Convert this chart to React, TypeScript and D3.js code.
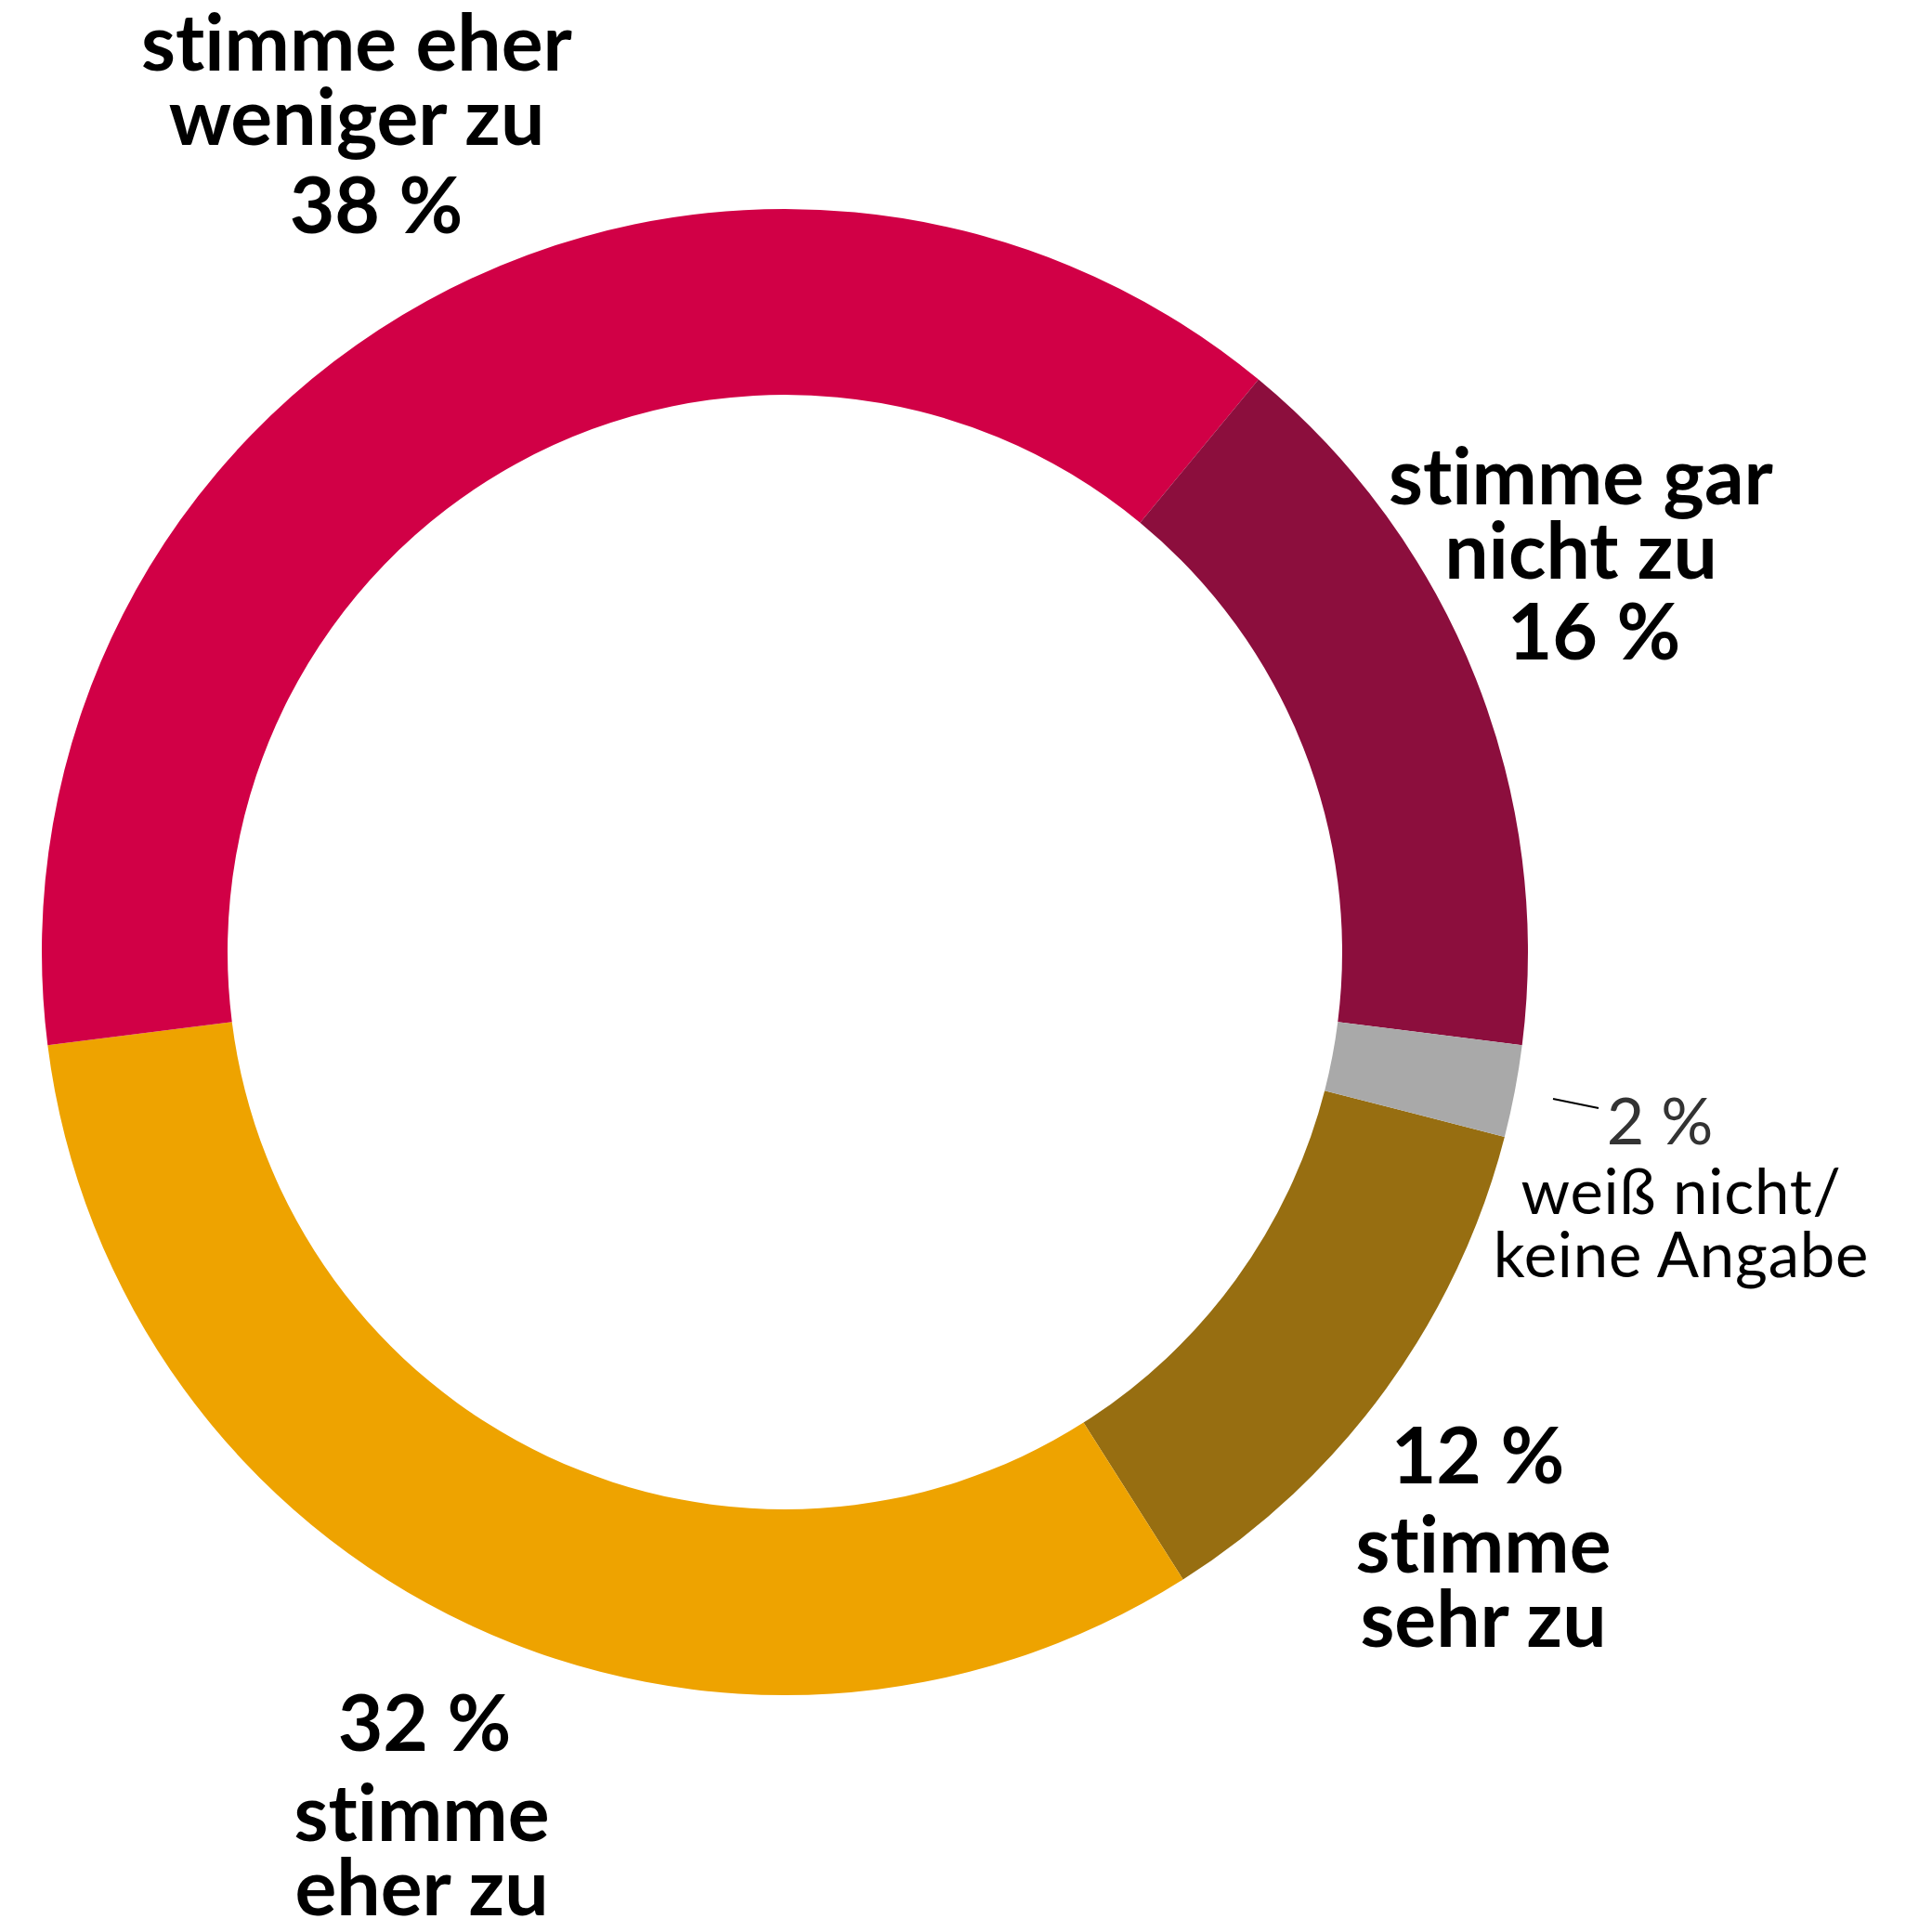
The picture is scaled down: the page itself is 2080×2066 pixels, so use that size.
import React from "react";
import * as d3 from "d3";

const categories = ["stimme sehr zu", "stimme eher zu", "stimme eher weniger zu", "stimme gar nicht zu", "weiß nicht/keine Angabe"];
const values = [12, 32, 38, 16, 2];
const colors = ["#976E11", "#EEA300", "#D10046", "#8C0E3D", "#A9A9A9"];
const pctLabels = ["12 %", "32 %", "38 %", "16 %", "2 %"];
const textLines = [
  ["stimme", "sehr zu"],
  ["stimme", "eher zu"],
  ["stimme eher", "weniger zu"],
  ["stimme gar", "nicht zu"],
  ["weiß nicht/", "keine Angabe"],
];

// layout (positions only)
const W = 2080, H = 2066;
const CX = 845, CY = 1025, R_OUT = 800, R_IN = 600;
const START_DEG = 104.4;
const layout = [
  { tx: 1597, ty: 1693, px: 1591, py: 1597 },
  { tx: 454, ty: 1982, px: 457, py: 1885 },
  { tx: 384, ty: 76, px: 405, py: 251 },
  { tx: 1702, ty: 543, px: 1716, py: 710 },
  { tx: 1810, ty: 1307, px: 1787, py: 1232 },
];

export default function App() {
  const start = (START_DEG * Math.PI) / 180;
  const pie = d3.pie<number>().sort(null).value((d) => d).startAngle(start).endAngle(start + 2 * Math.PI);
  const arcs = pie(values);
  const arc = d3.arc<d3.PieArcDatum<number>>().innerRadius(R_IN).outerRadius(R_OUT);
  const base = { fontFamily: "Lato, 'Open Sans', sans-serif", fontVariantLigatures: "none" as const, fontFeatureSettings: "'liga' 0, 'clig' 0" };
  const bold = { ...base, fontWeight: 700, fontSize: 84, fill: "#000" };
  const light = { ...base, fontWeight: 400, fontSize: 67, letterSpacing: 0.8, fill: "#000" };
  return (
    <svg width={W} height={H} style={{ position: "absolute", left: 0, top: 0, background: "#fff" }}>
      <g transform={`translate(${CX},${CY})`}>
        {arcs.map((a, i) => (
          <path key={i} d={arc(a) || ""} fill={colors[i]} />
        ))}
      </g>
      <line x1={1672} y1={1183} x2={1721} y2={1193} stroke="#000" strokeWidth={2} />
      {categories.map((c, i) => {
        const L = layout[i];
        const isSmall = i === 4;
        const st = isSmall ? light : bold;
        const gap = isSmall ? 68 : 80;
        return (
          <g key={c}>
            <text x={L.px} y={L.py} textAnchor="middle" style={isSmall ? { ...light, fontSize: 70, letterSpacing: 0, fill: "#333" } : bold}>
              {pctLabels[i]}
            </text>
            {textLines[i].map((t, j) => (
              <text key={j} x={L.tx} y={L.ty + j * gap} textAnchor="middle" style={st}>
                {t}
              </text>
            ))}
          </g>
        );
      })}
    </svg>
  );
}
